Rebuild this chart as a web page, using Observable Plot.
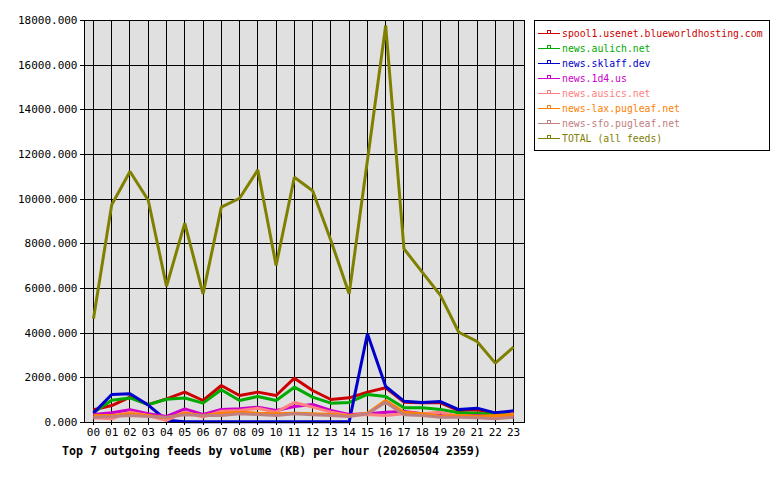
<!DOCTYPE html>
<html>
<head>
<meta charset="utf-8">
<script src="https://cdn.jsdelivr.net/npm/d3@7"></script>
<script src="https://cdn.jsdelivr.net/npm/@observablehq/plot@0.6"></script>
<style>
  html, body { margin: 0; padding: 0; background: #fff; }
  #wrap { position: relative; width: 780px; height: 480px; overflow: hidden; font-family: "DejaVu Sans Mono", monospace; }
  #chart { position: absolute; left: 0; top: 0; }
  #legend { position: absolute; left: 534px; top: 20px; width: 234px; height: 124px; border: 1px solid #000; background: #fff; box-sizing: content-box; padding-top: 5px; }
  .item { height: 15px; line-height: 15px; font-size: 9.8px; white-space: nowrap; display: flex; align-items: center; }
  .item svg { margin-left: 3px; margin-right: 2px; flex: none; }
  #title { position: absolute; left: 62px; top: 444px; font-size: 11.6px; font-weight: bold; white-space: nowrap; }
</style>
</head>
<body>
<div id="wrap">
  <div id="chart"></div>
  <div id="legend"></div>
  <div id="title"></div>
</div>
<script>
const hours = ["00","01","02","03","04","05","06","07","08","09","10","11","12","13","14","15","16","17","18","19","20","21","22","23"];
const seriesNames = ["spool1.usenet.blueworldhosting.com","news.aulich.net","news.sklaff.dev","news.1d4.us","news.ausics.net","news-lax.pugleaf.net","news-sfo.pugleaf.net","TOTAL (all feeds)"];
const seriesColors = ["#cc0000","#00aa00","#0000cc","#cc00cc","#ff8080","#ff8000","#c08080","#808000"];
const spool1 = [570,760,1135,800,1060,1360,985,1657,1210,1360,1210,1986,1433,1030,1105,1360,1553,910,880,880,537,567,418,463];
const aulich = [450,1000,1100,800,1040,1100,866,1463,985,1165,985,1582,1135,866,896,1254,1165,657,657,582,433,418,358,358];
const sklaff = [420,1254,1284,780,100,30,30,30,30,30,30,30,30,30,30,3971,1612,955,896,940,582,642,433,522];
const d1d4 = [358,433,567,388,269,612,358,582,612,687,537,717,806,537,358,388,463,493,388,313,269,313,239,239];
const ausics = [209,164,463,313,90,463,239,508,537,642,463,895,687,463,313,358,313,388,388,463,269,269,239,388];
const lax = [313,313,388,313,209,418,313,418,463,418,388,418,388,358,299,418,985,463,388,284,313,284,313,343];
const sfo = [239,269,313,269,239,343,313,313,388,358,313,388,343,313,269,388,910,343,313,239,239,209,164,239];
const total = [4650,9750,11240,9950,6100,8930,5760,9640,10040,11310,7030,10980,10380,8150,5760,11730,17780,7780,6730,5690,4040,3630,2660,3370];
const yTicks = [0,2000,4000,6000,8000,10000,12000,14000,16000,18000];
const titleText = "Top 7 outgoing feeds by volume (KB) per hour (20260504 2359)";

const allSeries = [spool1, aulich, sklaff, d1d4, ausics, lax, sfo, total];
const rows = [];
allSeries.forEach((vals, si) => vals.forEach((v, h) => rows.push({series: seriesNames[si], hour: h, value: v})));
const hourIdx = hours.map((_, i) => i);

const chart = Plot.plot({
  width: 780,
  height: 480,
  marginLeft: 84,
  marginRight: 256,
  marginTop: 20,
  marginBottom: 58,
  style: {fontFamily: "DejaVu Sans Mono, monospace", fontSize: "11px", color: "#000", background: "transparent"},
  x: {domain: [-0.49, 23.6], axis: null, label: null},
  y: {domain: [0, 18000], axis: null, label: null},
  color: {domain: seriesNames, range: seriesColors},
  marks: [
    Plot.frame({fill: "#e0e0e0", stroke: null}),
    Plot.ruleX(hourIdx, {stroke: "#000", strokeWidth: 1, strokeOpacity: 1, shapeRendering: "crispEdges"}),
    Plot.ruleY(yTicks, {stroke: "#000", strokeWidth: 1, strokeOpacity: 1, shapeRendering: "crispEdges"}),
    Plot.axisY({ticks: yTicks, tickFormat: d3.format(".3f"), tickSize: 4, tickPadding: 3, fontSize: 11, stroke: "#000", label: null, shapeRendering: "crispEdges"}),
    Plot.axisX({ticks: hourIdx, tickFormat: i => hours[i], tickSize: 3, tickPadding: 3, fontSize: 11, stroke: "#000", label: null, shapeRendering: "crispEdges"}),
    Plot.line(rows, {x: "hour", y: "value", z: "series", stroke: "series", strokeWidth: 3, strokeLinejoin: "miter", strokeLinecap: "butt"}),
    Plot.frame({stroke: "#000", strokeWidth: 1, strokeOpacity: 1, shapeRendering: "crispEdges"})
  ]
});
document.getElementById("chart").appendChild(chart);

const legend = document.getElementById("legend");
seriesNames.forEach((name, i) => {
  const c = seriesColors[i];
  const div = document.createElement("div");
  div.className = "item";
  div.innerHTML = `<svg width="22" height="15"><line x1="0" x2="22" y1="7.5" y2="7.5" stroke="${c}" stroke-width="1"/><rect x="9.5" y="4.5" width="3" height="3" fill="none" stroke="${c}" stroke-width="1"/></svg><span style="color:${c}">${name}</span>`;
  legend.appendChild(div);
});
document.getElementById("title").textContent = titleText;
</script>
</body>
</html>
